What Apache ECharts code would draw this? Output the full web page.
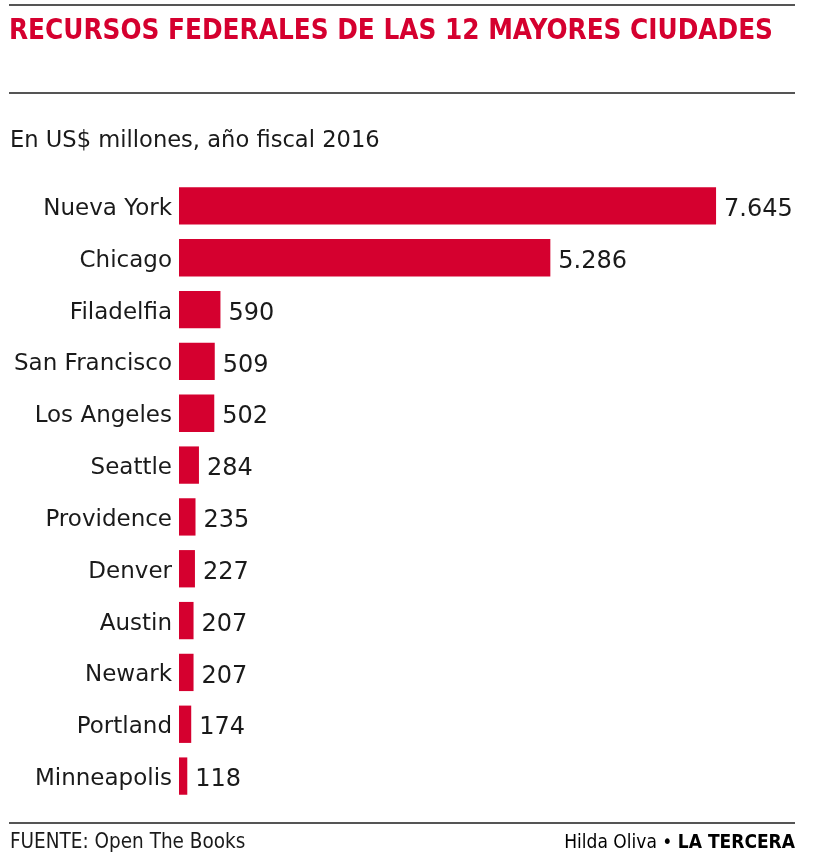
<!DOCTYPE html>
<html>
<head>
<meta charset="utf-8">
<script src="https://cdn.jsdelivr.net/npm/echarts@6/dist/echarts.min.js"></script>
<style>
html,body{margin:0;padding:0;background:#fff;}
#chart{width:820px;height:858px;}
</style>
</head>
<body>
<div id="chart"></div>
<script>
const titleText = 'RECURSOS FEDERALES DE LAS 12 MAYORES CIUDADES';
const subtitleText = 'En US$ millones, año fiscal 2016';
const sourceText = 'FUENTE: Open The Books';
const authorText = 'Hilda Oliva • ';
const brandText = 'LA TERCERA';
const cities = ['Nueva York','Chicago','Filadelfia','San Francisco','Los Angeles','Seattle','Providence','Denver','Austin','Newark','Portland','Minneapolis'];
const values = [7645,5286,590,509,502,284,235,227,207,207,174,118];
const valueLabels = ['7.645','5.286','590','509','502','284','235','227','207','207','174','118'];

const RED = '#d5002f';
const COND = '"DejaVu Sans Condensed", sans-serif';
const chart = echarts.init(document.getElementById('chart'));
chart.setOption({
  backgroundColor: '#fff',
  animation: false,
  grid: {left: 179, top: 180, width: 562, height: 622, containLabel: false},
  xAxis: {type: 'value', min: 0, max: 8000, show: false},
  yAxis: {
    type: 'category', data: cities, inverse: true,
    axisLine: {show: false}, axisTick: {show: false},
    axisLabel: {
      margin: 7,
      formatter: v => '{c|' + v + '}',
      rich: {c: {fontFamily: 'DejaVu Sans', fontSize: 23, color: '#1a1a1a', padding: [6, 0, 0, 0]}}
    }
  },
  series: [{
    type: 'bar', data: values, barCategoryGap: '28%',
    itemStyle: {color: RED},
    label: {
      show: true, position: 'right', distance: 8, offset: [0, 4],
      fontFamily: 'DejaVu Sans', fontSize: 24, color: '#1a1a1a',
      formatter: p => valueLabels[p.dataIndex]
    }
  }],
  graphic: [
    {type: 'line', shape: {x1: 9, y1: 5, x2: 795, y2: 5}, style: {stroke: '#555', lineWidth: 2}},
    {type: 'text', x: 9, y: 32, style: {text: titleText, font: 'bold 27.6px ' + COND, fill: RED, verticalAlign: 'middle'}},
    {type: 'line', shape: {x1: 9, y1: 93, x2: 795, y2: 93}, style: {stroke: '#555', lineWidth: 2}},
    {type: 'text', x: 10, y: 141, style: {text: subtitleText, font: '22.6px "DejaVu Sans", sans-serif', fill: '#1a1a1a', verticalAlign: 'middle'}},
    {type: 'line', shape: {x1: 9, y1: 823, x2: 795, y2: 823}, style: {stroke: '#555', lineWidth: 2}},
    {type: 'text', x: 10, y: 843, style: {text: sourceText, font: '20.5px ' + COND, fill: '#1a1a1a', verticalAlign: 'middle'}},
    {type: 'text', x: 795, y: 843, style: {
      text: '{a|' + authorText + '}{b|' + brandText + '}', align: 'right', verticalAlign: 'middle',
      rich: {
        a: {fontFamily: 'DejaVu Sans Condensed', fontSize: 19, color: '#1a1a1a'},
        b: {fontFamily: 'DejaVu Sans Condensed', fontSize: 19, fontWeight: 'bold', color: '#1a1a1a'}
      }
    }}
  ]
});
</script>
</body>
</html>
